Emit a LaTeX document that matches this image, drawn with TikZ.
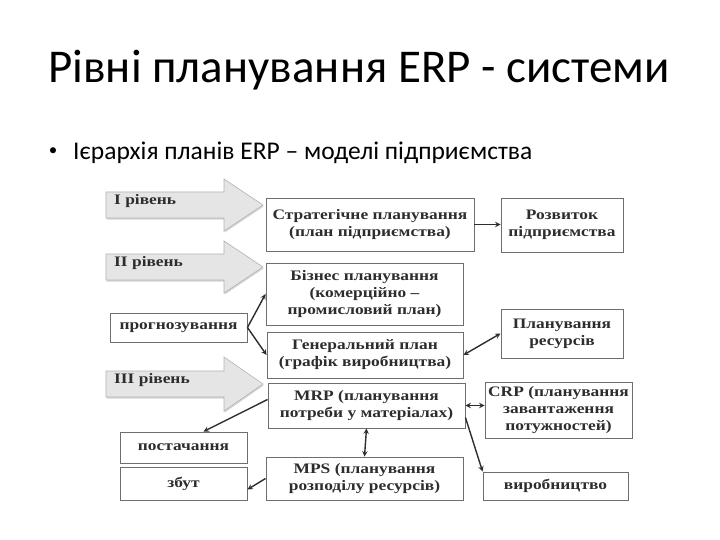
\documentclass[tikz,border=0pt]{standalone}
\usepackage{fontspec}
\setmainfont{Carlito}
\newfontfamily\boxfont{Liberation Serif}[FakeStretch=1.2]
\usetikzlibrary{shadows}
\definecolor{boxgray}{RGB}{110,110,110}
\definecolor{inkgray}{RGB}{45,45,45}
\begin{document}
\begin{tikzpicture}[x=1pt,y=-1pt,>=stealth,
	box/.style={draw=boxgray,line width=0.9pt,fill=white,align=center,inner sep=0pt,
		text=inkgray,font=\boxfont\bfseries\fontsize{14.5}{17}\selectfont},
	lvl/.style={draw=gray!60,line width=0.6pt,fill=gray!20,
		drop shadow={shadow xshift=0.6pt,shadow yshift=-1.6pt,fill=gray!65}},
	lvltext/.style={anchor=west,inner sep=0pt,text=inkgray,font=\boxfont\bfseries\fontsize{14.5}{17}\selectfont},
	link/.style={draw=inkgray,line width=1.4pt}]
		\useasboundingbox (0,0) rectangle (720,540);
		% title and bullet
		\node[anchor=base,font=\fontsize{47}{54}\selectfont] (title) at (359,83) {Рівні планування ERP - системи};
		\node[font=\fontsize{17}{20}\selectfont] (dot) at (53,152) {•};
		\node[anchor=base west,inner sep=0pt,font=\fontsize{25.5}{30}\selectfont] (sub) at (73,160) {Ієрархія планів ERP – моделі підприємства};
		% level arrows
		\draw[lvl] (106,192)--(224,192)--(224,179)--(263,205)--(224,231)--(224,218)--(106,218)--cycle;
		\draw[lvl] (106,254)--(224,254)--(224,241)--(263,267)--(224,293)--(224,280)--(106,280)--cycle;
		\draw[lvl] (106,371)--(224,371)--(224,357)--(263,384)--(224,411)--(224,397)--(106,397)--cycle;
		\node[lvltext] (lvl1) at (114,201) {I рівень};
		\node[lvltext] (lvl2) at (114,263) {II рівень};
		\node[lvltext] (lvl3) at (114,380) {III рівень};
		% boxes
		\node[box,minimum width=208,minimum height=53] (strat) at (370,224.5) {Стратегічне планування\\(план підприємства)};
		\node[box,minimum width=122,minimum height=54] (rozv) at (562,225) {Розвиток\\підприємства};
		\node[box,minimum width=197,minimum height=62] (biz) at (364.5,294) {Бізнес планування\\(комерційно –\\промисловий план)};
		\node[box,minimum width=137,minimum height=29] (prog) at (178.5,327.5) {прогнозування};
		\node[box,minimum width=196,minimum height=46] (gen) at (365,355) {Генеральний план\\(графік виробництва)};
		\node[box,minimum width=122,minimum height=49] (res) at (562,333.5) {Планування\\ресурсів};
		\node[box,minimum width=197,minimum height=45] (mrp) at (366.5,405.5) {MRP (планування\\потреби у матеріалах)};
		\node[box,minimum width=147,minimum height=56] (crp) at (558.5,410) {CRP (планування\\завантаження\\потужностей)};
		\node[box,minimum width=127,minimum height=31] (post) at (183.5,447.5) {постачання};
		\node[box,minimum width=127,minimum height=33] (zbut) at (183.5,483.5) {збут};
		\node[box,minimum width=197,minimum height=43] (mps) at (364.5,478.5) {MPS (планування\\розподілу ресурсів)};
		\node[box,minimum width=145,minimum height=28] (vyr) at (555.5,486) {виробництво};
		% links
		\draw[link,->] (strat.east)--(strat.east-|rozv.west);
		\draw[link,->] (prog.east)--(biz.west);
		\draw[link,->] (prog.east)--(gen.west);
		\draw[link,<->] (res.west)--(gen.east);
		\draw[link,<->] (mrp.east)--(mrp.east-|crp.west);
		\draw[link,->] ([yshift=-12pt]mrp.east)--(vyr.north west);
		\draw[link,->] ([yshift=6pt]mrp.west)--([xshift=20pt]post.north);
		\draw[link,<->] (mrp.south)--(mps.north);
		\draw[link,->] (mps.west)--([yshift=-6pt]zbut.east);
\end{tikzpicture}
\end{document}
